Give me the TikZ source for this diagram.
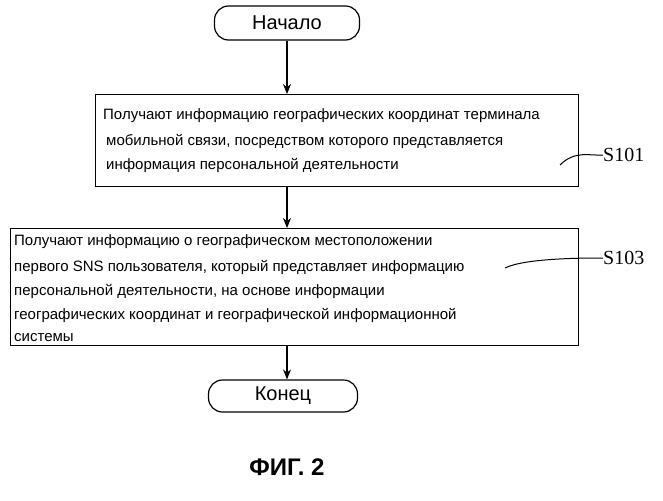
\documentclass[tikz,border=0pt]{standalone}
\usepackage{fontspec}
\setmainfont{Liberation Sans}
\newfontfamily\serifx{Liberation Serif}
\usetikzlibrary{arrows.meta}
\begin{document}
\begin{tikzpicture}[x=1pt,y=-1pt,
  term/.style={draw,line width=1.2pt,rounded corners=14pt,minimum width=145pt,minimum height=34pt,font=\fontsize{20}{22}\selectfont},
  proc/.style={draw,line width=1.2pt,anchor=north west},
  txt/.style={anchor=west,font=\fontsize{15}{16}\selectfont,inner sep=0pt},
  lab/.style={anchor=west,font=\serifx\fontsize{20}{22}\selectfont,inner sep=0pt},
  arr/.style={line width=1.2pt,-{Stealth[length=10pt,width=8pt]}}]
\useasboundingbox (0,0) rectangle (663,500);
\node[term] (start) at (287,23) {Начало};
\node[proc,minimum width=483pt,minimum height=92pt] (b1) at (95,94) {};
\node[txt] (t11) at (103,116) {Получают информацию географических координат терминала};
\node[txt] (t12) at (106,141) {мобильной связи, посредством которого представляется};
\node[txt] (t13) at (106,165) {информация персональной деятельности};
\node[proc,minimum width=568pt,minimum height=117pt] (b2) at (10,228) {};
\node[txt] (t21) at (14,242) {Получают информацию о географическом местоположении};
\node[txt] (t22) at (14,267) {первого SNS пользователя, который представляет информацию};
\node[txt] (t23) at (14,291) {персональной деятельности, на основе информации};
\node[txt] (t24) at (14,315) {географических координат и географической информационной};
\node[txt] (t25) at (14,338) {системы};
\node[term,minimum width=149pt,minimum height=32pt] (end) at (283,396) {Конец};
\node[lab] (s1) at (603,155) {S101};
\node[lab] (s3) at (603,258) {S103};
\node[font=\bfseries\fontsize{24}{26}\selectfont] (fig) at (287,467) {ФИГ. 2};
\coordinate (c1) at (560,165);
\coordinate (c3) at (505,268);
\draw[arr] (start.south) -- (b1.north -| start.south);
\draw[arr] (b1.south -| start.south) -- (b2.north -| start.south);
\draw[arr] (b2.south -| start.south) -- (end.north -| start.south);
\draw[line width=1pt] (c1) .. controls (575,150) and (590,156) .. (s1.west);
\draw[line width=1pt] (c3) .. controls (525,258) and (585,258) .. (s3.west);
\end{tikzpicture}
\end{document}
